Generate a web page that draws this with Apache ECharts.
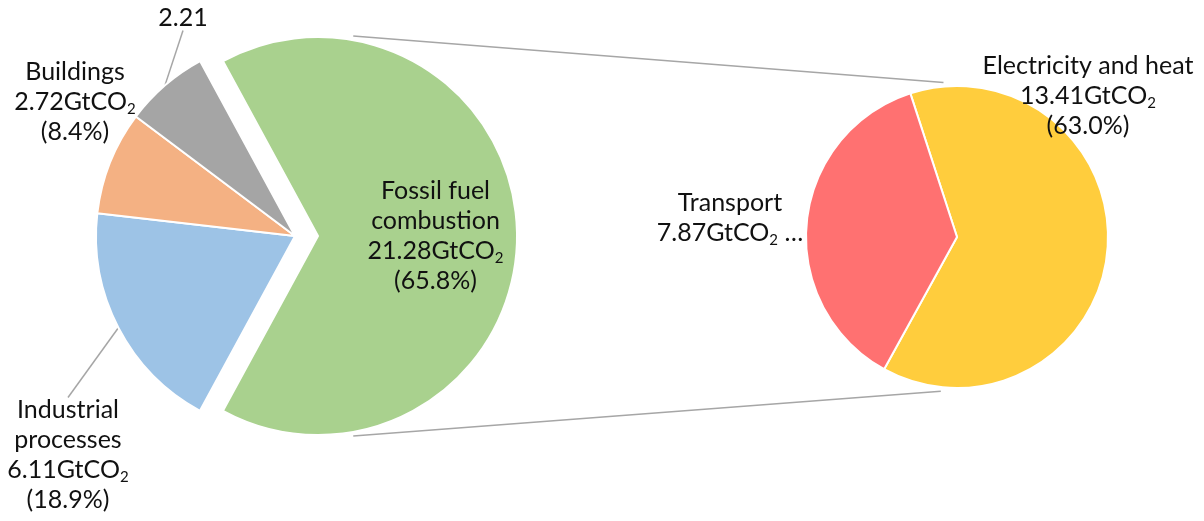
<!DOCTYPE html>
<html>
<head>
<meta charset="utf-8">
<script src="https://cdn.jsdelivr.net/npm/echarts@6/dist/echarts.min.js"></script>
<style>
  html, body { margin: 0; padding: 0; background: #fff; }
  #main { width: 1204px; height: 521px; }
</style>
</head>
<body>
<div id="main"></div>
<script>
// left pie: total emissions by source
const sourceNames = ['Fossil fuel\ncombustion', 'Industrial\nprocesses', 'Buildings', 'Other'];
const sourceValues = [21.28, 6.11, 2.72, 2.21];
const sourceColors = ['#a9d18e', '#9dc3e6', '#f4b183', '#a5a5a5'];

// right pie: breakdown of fossil fuel combustion
const fossilNames = ['Electricity and heat', 'Transport'];
const fossilValues = [13.41, 7.87];
const fossilColors = ['#ffcd3d', '#ff7171'];

const FONT = 'Lato, "Open Sans", sans-serif';
const leftC = [295, 236], leftR = 199, explode = 23;
const rightC = [957, 237], rightR = 151;

// where each outside label block sits (center of the text block)
const leftLabelPos = [null, [68, 455], [75, 102], [183, 18]];
const rightLabelPos = [[1088, 96], [730, 218]];

const chartDom = document.querySelector('#main');
const myChart = echarts.init(chartDom);

const rich = {
    t: { fontSize: 25, fontFamily: FONT, color: '#111', lineHeight: 30 },
    s: { fontSize: 15, fontFamily: FONT, color: '#111', lineHeight: 18, verticalAlign: 'bottom' }
};

function gt(v) {
    return '{t|' + v.toFixed(2) + 'GtCO}{s|2}';
}

function leftLabel(p) {
    if (p.dataIndex === 3) return '{t|' + p.value.toFixed(2) + '}';
    const lines = p.name.split('\n').map((n) => '{t|' + n + '}');
    lines.push(gt(p.value));
    lines.push('{t|(' + p.percent.toFixed(1) + '%)}');
    return lines.join('\n');
}

function rightLabel(p) {
    if (p.dataIndex === 1) return '{t|' + p.name + '}\n' + gt(p.value) + '{t| …}';
    return '{t|' + p.name + '}\n' + gt(p.value) + '\n{t|(' + p.percent.toFixed(1) + '%)}';
}

// connector lines between the exploded slice and the second pie
function polar(c, r, deg) {
    const a = deg * Math.PI / 180;
    return [c[0] + r * Math.cos(a), c[1] - r * Math.sin(a)];
}
const greenC = [leftC[0] + explode, leftC[1]];
const topA = polar(greenC, leftR + 4, 80), topB = polar(rightC, rightR + 4, 95);
const botA = polar(greenC, leftR + 4, -80), botB = polar(rightC, rightR + 4, -96);

const option = {
    animation: false,
    backgroundColor: '#fff',
    graphic: [
        { type: 'line', shape: { x1: topA[0], y1: topA[1], x2: topB[0], y2: topB[1] }, style: { stroke: '#a6a6a6', lineWidth: 1.5 }, z: 0 },
        { type: 'line', shape: { x1: botA[0], y1: botA[1], x2: botB[0], y2: botB[1] }, style: { stroke: '#a6a6a6', lineWidth: 1.5 }, z: 0 }
    ],
    series: [
        {
            type: 'pie',
            center: leftC,
            radius: leftR,
            startAngle: 118.5,
            clockwise: true,
            selectedMode: 'single',
            selectedOffset: explode,
            avoidLabelOverlap: false,
            itemStyle: { borderColor: '#fff', borderWidth: 2 },
            emphasis: { disabled: true },
            label: { formatter: leftLabel, rich: rich, position: 'outside' },
            labelLine: { show: true, lineStyle: { color: '#a6a6a6', width: 1.5 }, length: 10, length2: 0 },
            labelLayout: (p) => {
                const pos = leftLabelPos[p.dataIndex];
                if (!pos) return { dx: 15 };
                return { x: pos[0], y: pos[1], align: 'center', verticalAlign: 'middle' };
            },
            data: sourceNames.map((n, i) => ({
                name: n,
                value: sourceValues[i],
                selected: i === 0,
                itemStyle: { color: sourceColors[i] },
                label: i === 0 ? { position: 'inside' } : {},
                labelLine: { show: i === 1 || i === 3 }
            }))
        },
        {
            type: 'pie',
            center: rightC,
            radius: rightR,
            startAngle: 108,
            clockwise: true,
            avoidLabelOverlap: false,
            itemStyle: { borderColor: '#fff', borderWidth: 2 },
            emphasis: { disabled: true },
            label: { formatter: rightLabel, rich: rich },
            labelLine: { show: false },
            labelLayout: (p) => {
                const pos = rightLabelPos[p.dataIndex];
                return { x: pos[0], y: pos[1], align: 'center', verticalAlign: 'middle' };
            },
            data: fossilNames.map((n, i) => ({
                name: n,
                value: fossilValues[i],
                itemStyle: { color: fossilColors[i] }
            }))
        }
    ]
};

myChart.setOption(option);
</script>
</body>
</html>
